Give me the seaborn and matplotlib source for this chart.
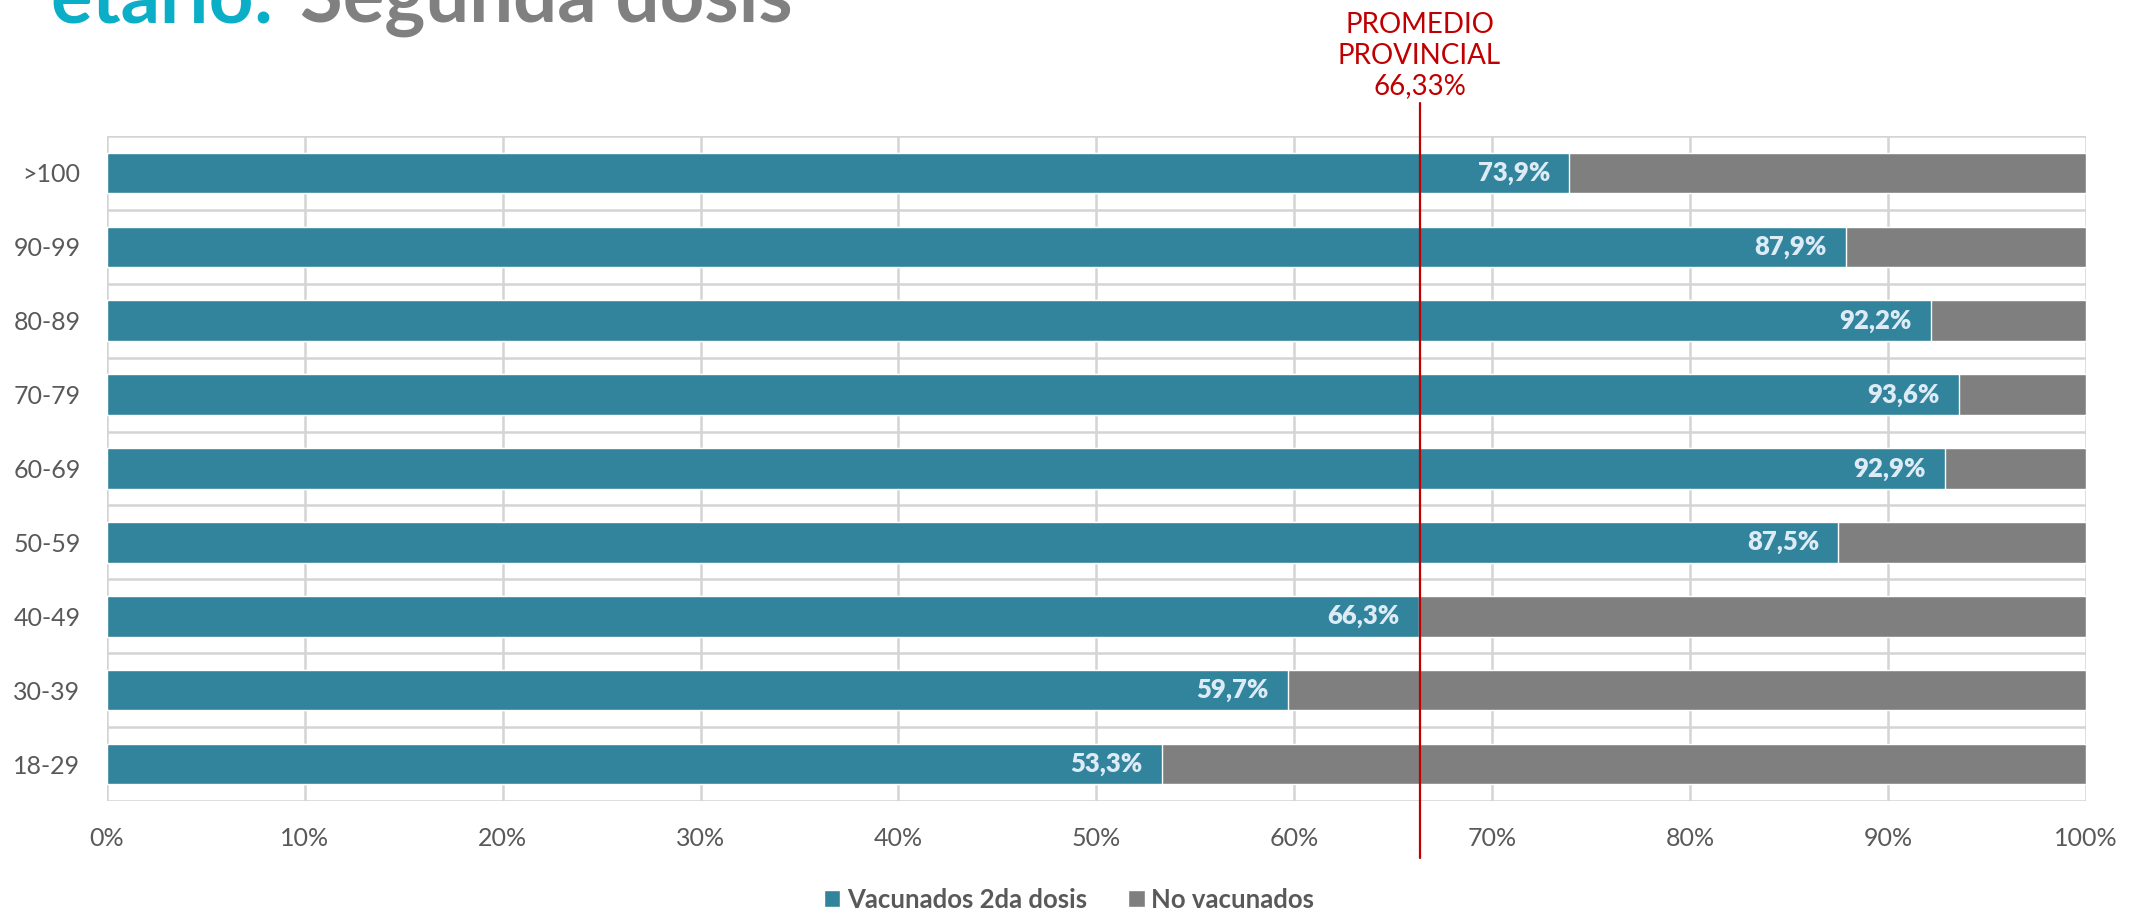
import matplotlib
matplotlib.use('Agg')
import matplotlib.pyplot as plt
import seaborn as sns
import pandas as pd
from matplotlib.patches import Patch
from matplotlib.ticker import MultipleLocator, FixedLocator
import matplotlib.transforms as mtransforms

# datos
grupos = ['>100', '90-99', '80-89', '70-79', '60-69', '50-59', '40-49', '30-39', '18-29']
vacunados = [73.9, 87.9, 92.2, 93.6, 92.9, 87.5, 66.3, 59.7, 53.3]
no_vacunados = [26.1, 12.1, 7.8, 6.4, 7.1, 12.5, 33.7, 40.3, 46.7]
promedio = 66.33
ticks_x = [0, 10, 20, 30, 40, 50, 60, 70, 80, 90, 100]

# colores
teal = '#31849B'
gris_barra = '#7F7F7F'
gris_texto = '#595959'
gris_grilla = '#D4D4D4'
rojo = '#C00000'
cian_titulo = '#0AAFC7'
gris_titulo = '#808080'
etiqueta_clara = '#DDEBF7'

sns.set_theme(style='white')
plt.rcParams['font.family'] = ['Lato', 'DejaVu Sans']

df = pd.DataFrame({'grupo': grupos, 'vac': vacunados, 'novac': no_vacunados})
df['total'] = df['vac'] + df['novac']

fig = plt.figure(figsize=(21.38, 9.10), dpi=100)
ax = fig.add_axes([0.0500, 0.1198, 0.9256, 0.7307])

sns.barplot(data=df, x='total', y='grupo', color=gris_barra, orient='h',
            width=0.55, saturation=1, ax=ax, zorder=2)
sns.barplot(data=df, x='vac', y='grupo', color=teal, orient='h',
            width=0.55, saturation=1, ax=ax, zorder=3)

ax.set_xlim(0, 100)
ax.set_ylim(len(grupos) - 0.5, -0.5)
ax.set_xlabel('')
ax.set_ylabel('')
ax.xaxis.set_major_locator(FixedLocator(ticks_x))
ax.set_xticklabels([f'{t}%' for t in ticks_x])
ax.yaxis.set_minor_locator(MultipleLocator(1, offset=0.5))
ax.set_axisbelow(True)
ax.grid(axis='x', which='major', color=gris_grilla, lw=1.8)
ax.grid(axis='y', which='minor', color=gris_grilla, lw=1.8)
ax.grid(axis='y', which='major', visible=False)
for s in ax.spines.values():
    s.set_visible(False)
ax.tick_params(axis='both', which='both', length=0, labelsize=18, labelcolor=gris_texto)
ax.tick_params(axis='y', pad=19)
ax.tick_params(axis='x', pad=19)

# etiquetas de barras
for i, v in enumerate(df['vac']):
    ax.annotate(f'{v:.1f}%'.replace('.', ','), xy=(v, i), xytext=(-14, 0),
                textcoords='offset points', ha='right', va='center',
                fontsize=18.5, fontweight='heavy', color=etiqueta_clara, zorder=5)

# linea promedio provincial
ax.axvline(promedio, ymin=-0.086, ymax=1.05, color=rojo, lw=1.6, clip_on=False, zorder=6)
trans = mtransforms.blended_transform_factory(ax.transData, ax.transAxes)
ax.text(promedio, 1.056, f'PROMEDIO\nPROVINCIAL\n{promedio:.2f}%'.replace('.', ','),
        transform=trans, ha='center', va='bottom', fontsize=20, color=rojo,
        linespacing=1.2)

# titulo (cortado arriba en el original)
fig.text(0.0234, 0.9758, 'etario:', ha='left', va='baseline', fontsize=56,
         fontweight='bold', color=cian_titulo)
fig.text(0.1403, 0.9758, 'Segunda dosis', ha='left', va='baseline', fontsize=56,
         fontweight='bold', color=gris_titulo)

# leyenda
handles = [Patch(facecolor=teal, label='Vacunados 2da dosis'),
           Patch(facecolor=gris_barra, label='No vacunados')]
leg = fig.legend(handles=handles, loc='center', bbox_to_anchor=(0.5, 0.011), ncol=2,
                 frameon=False, handlelength=0.64, handleheight=0.64, handletextpad=0.25,
                 columnspacing=1.6, borderpad=0, prop={'size': 18.5, 'weight': 'bold'})
for t in leg.get_texts():
    t.set_color(gris_texto)

fig.savefig('out.png', dpi=100)
